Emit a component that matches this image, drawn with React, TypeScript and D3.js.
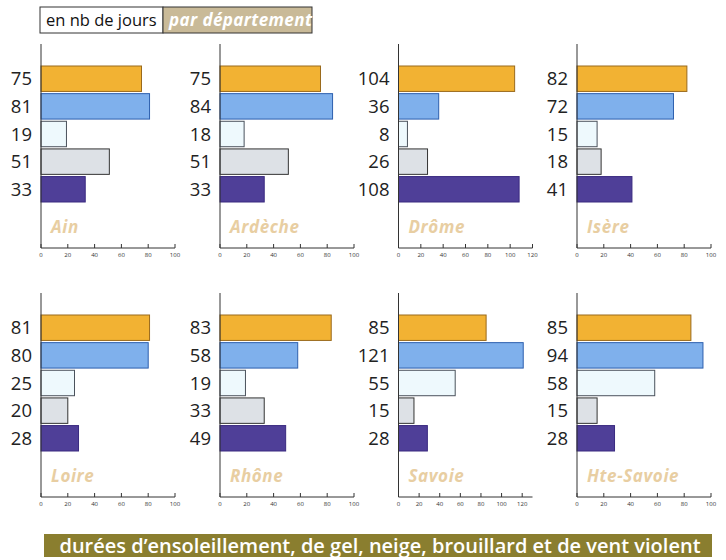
import React from "react";
import * as d3 from "d3";

// Départements et valeurs (nb de jours par an)
const departements = ["Ain", "Ardèche", "Drôme", "Isère", "Loire", "Rhône", "Savoie", "Hte-Savoie"];
const series = ["ensoleillement", "gel", "neige", "brouillard", "vent violent"];
const ensoleillement = [75, 75, 104, 82, 81, 83, 85, 85];
const gel = [81, 84, 36, 72, 80, 58, 121, 94];
const neige = [19, 18, 8, 15, 25, 19, 55, 58];
const brouillard = [51, 51, 26, 18, 20, 33, 15, 15];
const ventViolent = [33, 33, 108, 41, 28, 49, 28, 28];
const axisMax = [100, 100, 120, 100, 100, 100, 130, 100];
const tickStep = 20;

const headerLeft = "en nb de jours";
const headerRight = "par département";
const banner = "durées d’ensoleillement, de gel, neige, brouillard et de vent violent";

const fills = ["#f2b233", "#7fb0ec", "#eef9fd", "#dde1e6", "#4f3f98"];
const strokes = ["#9a6a1c", "#2d5fae", "#4a525c", "#333333", "#3a2a80"];

const W = 726;
const H = 560;
const FONT = "'Open Sans', 'Noto Sans', sans-serif";

const colX = [41, 220, 398.5, 577];
const rowY = [44, 293];
const plotW = 134;
const plotH = 204;

function Panel({ idx }: { idx: number }) {
  const x0 = colX[idx % 4];
  const y0 = rowY[Math.floor(idx / 4)];
  const values = [ensoleillement[idx], gel[idx], neige[idx], brouillard[idx], ventViolent[idx]];
  const max = axisMax[idx];
  const x = d3.scaleLinear().domain([0, max]).range([0, plotW]);
  const y = d3.scaleBand<string>().domain(series).range([22, 158]).paddingInner(0.08);
  const ticks = d3.range(0, max + 1, tickStep);
  return (
    <g transform={`translate(${x0},${y0})`}>
      {series.map((s, i) => (
        <g key={s}>
          <rect
            x={0}
            y={y(s)!}
            width={x(values[i])}
            height={y.bandwidth()}
            fill={fills[i]}
            stroke={strokes[i]}
            strokeWidth={1}
          />
          <text
            x={-9}
            y={y(s)! + y.bandwidth() / 2}
            dy="0.36em"
            textAnchor="end"
            fontFamily={FONT}
            fontSize={18.5}
            fill="#222"
          >
            {values[i]}
          </text>
        </g>
      ))}
      <line x1={0} x2={0} y1={0} y2={plotH} stroke="#333" strokeWidth={1} />
      <line x1={0} x2={x(max)} y1={plotH} y2={plotH} stroke="#333" strokeWidth={1} />
      {ticks.map((t) => (
        <g key={t} transform={`translate(${x(t)},${plotH})`}>
          <line y1={0} y2={-4} stroke="#333" strokeWidth={1} />
          <text y={9} textAnchor="middle" fontFamily={FONT} fontSize={6} fill="#333">
            {t}
          </text>
        </g>
      ))}
      <text
        x={10}
        y={189}
        fontFamily={FONT}
        fontSize={17}
        fontStyle="italic"
        fontWeight={700}
        letterSpacing={0.6}
        fill="#e8cea2"
      >
        {departements[idx]}
      </text>
    </g>
  );
}

export default function App() {
  return (
    <svg width={W} height={H} style={{ position: "absolute", left: 0, top: 0, background: "#fff" }}>
      <rect x={0} y={0} width={W} height={H} fill="#fff" />
      {/* en-tête */}
      <rect x={40} y={7} width={123} height={26} fill="#fff" stroke="#333" strokeWidth={1} />
      <rect x={163} y={7} width={149} height={26} fill="#c9ba98" stroke="#333" strokeWidth={1} />
      <text x={46} y={26} fontFamily={FONT} fontSize={16.5} fill="#111">
        {headerLeft}
      </text>
      <text x={169} y={26} fontFamily={FONT} fontSize={17} fontStyle="italic" fontWeight={700} letterSpacing={0.4} fill="#fff">
        {headerRight}
      </text>
      {departements.map((d, i) => (
        <Panel key={d} idx={i} />
      ))}
      {/* bandeau titre */}
      <rect x={44} y={534} width={668} height={23} fill="#8a7e2f" />
      <text
        x={380}
        y={552.5}
        textAnchor="middle"
        fontFamily={FONT}
        fontSize={20}
        fontWeight={600}
        fill="#fff"
      >
        {banner}
      </text>
    </svg>
  );
}
